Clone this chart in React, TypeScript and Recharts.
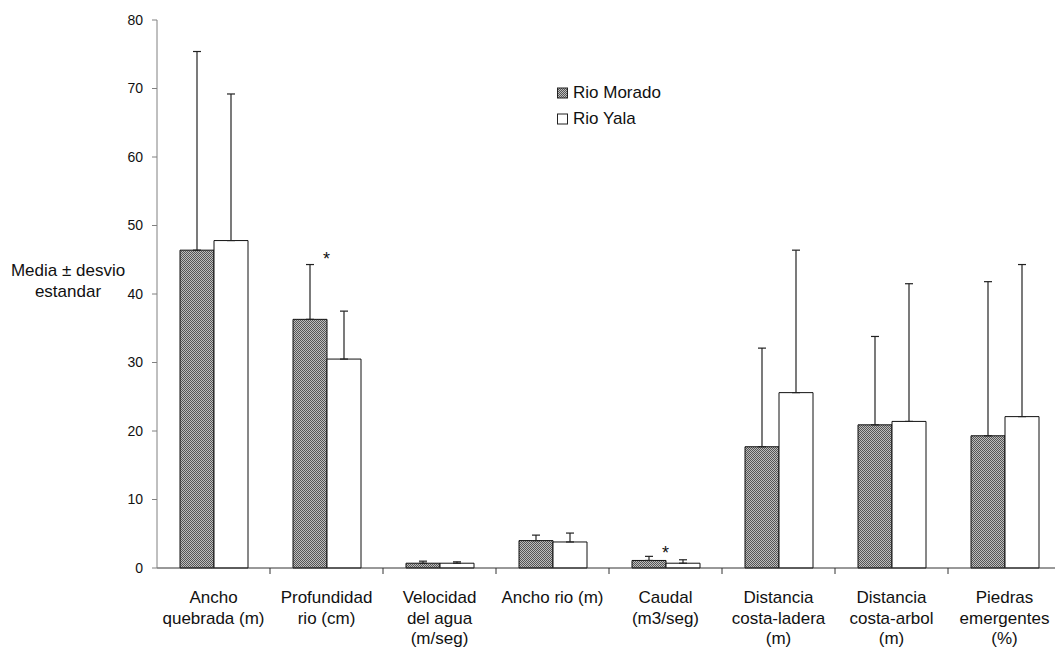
import React from 'react'
import {
    BarChart,
    Bar,
    XAxis,
    YAxis,
    ErrorBar,
    ReferenceDot
} from 'recharts'

const categories = [
    'Ancho\nquebrada (m)',
    'Profundidad\nrio (cm)',
    'Velocidad\ndel agua\n(m/seg)',
    'Ancho rio (m)',
    'Caudal\n(m3/seg)',
    'Distancia\ncosta-ladera\n(m)',
    'Distancia\ncosta-arbol\n(m)',
    'Piedras\nemergentes\n(%)'
]

const moradoMean = [46.4, 36.3, 0.7, 4.0, 1.1, 17.7, 20.9, 19.3]
const moradoSd = [29.0, 8.0, 0.3, 0.8, 0.6, 14.4, 12.9, 22.5]
const yalaMean = [47.8, 30.5, 0.7, 3.8, 0.7, 25.6, 21.4, 22.1]
const yalaSd = [21.4, 7.0, 0.2, 1.3, 0.5, 20.8, 20.1, 22.2]

const yTicks = [0, 10, 20, 30, 40, 50, 60, 70, 80]

// significance markers (category index, height)
const starCats = [1, 4]
const starValues = [45.1, 2.3]

const FONT = 'Arial, "Liberation Sans", sans-serif'

const data = categories.map((name, i) => ({
    name,
    morado: moradoMean[i],
    moradoErr: [0, moradoSd[i]],
    yala: yalaMean[i],
    yalaErr: [0, yalaSd[i]]
}))

const BAND = (1061 - 157) / categories.length

function CategoryTick(props: any) {
    const { x, y, payload } = props
    const lines = String(payload.value).split('\n')
    return (
        <g>
            <line x1={x + BAND / 2} y1={y - 8} x2={x + BAND / 2} y2={y - 2} stroke="#333" />
            <text x={x} y={y + 27} textAnchor="middle" fontSize={17} fill="#111" fontFamily={FONT}>
                {lines.map((l: string, i: number) => (
                    <tspan key={i} x={x} dy={i === 0 ? 0 : 20.5}>{l}</tspan>
                ))}
            </text>
        </g>
    )
}

function LegendBox() {
    return (
        <div style={{ position: 'absolute', left: 556, top: 80, fontFamily: FONT, fontSize: 17, color: '#111', lineHeight: '26px' }}>
            <div style={{ display: 'flex', alignItems: 'center' }}>
                <svg width={13} height={12} style={{ marginRight: 4 }}>
                    <rect x={1.5} y={1} width={10} height={10} fill="url(#checker)" stroke="#222" />
                </svg>
                Rio Morado
            </div>
            <div style={{ display: 'flex', alignItems: 'center' }}>
                <svg width={13} height={12} style={{ marginRight: 4 }}>
                    <rect x={1.5} y={1} width={10} height={10} fill="#fff" stroke="#222" />
                </svg>
                Rio Yala
            </div>
        </div>
    )
}

function YTitle() {
    return (
        <text x={68} y={276} textAnchor="middle" fontSize={17} fill="#111" fontFamily={FONT}>
            <tspan x={68} dy={0}>Media ± desvio</tspan>
            <tspan x={68} dy={21}>estandar</tspan>
        </text>
    )
}

export default function App() {
    return (
        <div style={{ position: 'absolute', left: 0, top: 0, width: 1055, height: 649, background: '#fff' }}>
            <BarChart
                width={1055}
                height={649}
                data={data}
                barGap={0}
                margin={{ top: 20, right: -6, left: 97, bottom: 0 }}
            >
                <defs>
                    <pattern id="checker" x="0" y="0" width="2" height="2" patternUnits="userSpaceOnUse">
                        <rect x="0" y="0" width="2" height="2" fill="#bdbdbd" />
                        <rect x="0" y="0" width="1" height="1" fill="#555" />
                        <rect x="1" y="1" width="1" height="1" fill="#555" />
                    </pattern>
                </defs>
                <XAxis
                    dataKey="name"
                    interval={0}
                    height={81}
                    stroke="#333"
                    tickLine={false}
                    tick={<CategoryTick />}
                />
                <YAxis
                    domain={[0, 80]}
                    ticks={yTicks}
                    width={60}
                    stroke="#808080"
                    tickSize={5}
                    tickMargin={9}
                    tick={{ fill: '#111', fontSize: 14, fontFamily: FONT }}
                    label={<YTitle />}
                />
                <Bar dataKey="morado" name="Rio Morado" barSize={34} fill="url(#checker)" stroke="#111" strokeWidth={1} isAnimationActive={false}>
                    <ErrorBar dataKey="moradoErr" direction="y" width={4} stroke="#222" strokeWidth={1.2} />
                </Bar>
                <Bar dataKey="yala" name="Rio Yala" barSize={34} fill="#fff" stroke="#111" strokeWidth={1} isAnimationActive={false}>
                    <ErrorBar dataKey="yalaErr" direction="y" width={4} stroke="#222" strokeWidth={1.2} />
                </Bar>
                {starCats.map((c, i) => (
                    <ReferenceDot
                        key={c}
                        x={categories[c]}
                        y={starValues[i]}
                        r={0}
                        label={{ value: '*', position: 'center', fontSize: 18, fill: '#111', fontFamily: FONT }}
                    />
                ))}
            </BarChart>
            <LegendBox />
        </div>
    )
}
